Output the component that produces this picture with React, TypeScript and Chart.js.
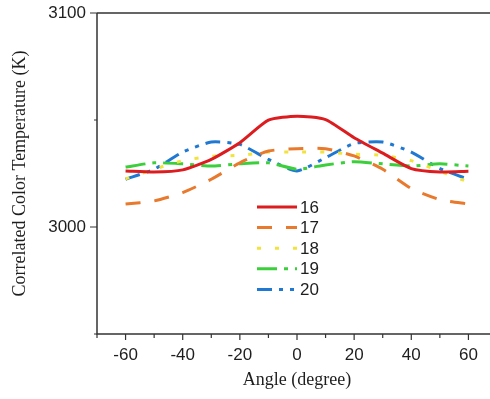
import React, { useEffect, useRef } from "react";
import { Chart, registerables } from "chart.js";

Chart.register(...registerables);

const angles = [-60, -50, -40, -30, -20, -10, 0, 10, 20, 30, 40, 50, 60];
const s16 = [3026.2, 3025.7, 3026.7, 3031.6, 3039.4, 3049.9, 3051.8, 3050.2, 3041.7, 3034.5, 3027.3, 3025.7, 3026.0];
const s17 = [3010.7, 3012.2, 3016.1, 3022.3, 3030.0, 3035.5, 3036.6, 3036.6, 3033.2, 3027.0, 3018.0, 3012.8, 3010.7];
const s18 = [3022.5, 3027.0, 3031.0, 3033.0, 3033.5, 3035.0, 3035.0, 3035.0, 3034.0, 3033.5, 3031.0, 3026.0, 3021.0];
const s19 = [3028.0, 3030.0, 3029.5, 3028.5, 3029.5, 3030.0, 3027.0, 3029.0, 3030.5, 3029.5, 3028.5, 3029.5, 3028.5];
const s20 = [3022.3, 3027.0, 3035.0, 3039.7, 3038.6, 3031.6, 3026.2, 3032.4, 3039.0, 3039.7, 3035.0, 3027.3, 3022.3];
const seriesLabels = ["16", "17", "18", "19", "20"];
const seriesValues = [s16, s17, s18, s19, s20];
const seriesColors = ["#dc1c1f", "#e8792d", "#f2e33a", "#3ccf3c", "#1f78d1"];
const seriesDashes = [[], [15, 14], [4, 14], [20, 7, 4, 7], [15, 7, 4, 7, 4, 7]];
const xMajorLabels = [-60, -40, -20, 0, 20, 40, 60];
const yMajorLabels = [3000, 3100];
const xRange = [-70, 70];
const yRange = [2950, 3100];

const AXIS_COLOR = "#333";
const TEXT_COLOR = "#1e1e1e";

const framePlugin = {
  id: "frame",
  afterDatasetsDraw(chart: any) {
    const { ctx, chartArea, scales } = chart;
    const xs = scales.x;
    const ys = scales.y;
    const { left, right, top, bottom } = chartArea;
    ctx.save();
    ctx.strokeStyle = AXIS_COLOR;
    ctx.lineWidth = 1.5;
    ctx.setLineDash([]);
    ctx.beginPath();
    ctx.moveTo(left, top);
    ctx.lineTo(right, top);
    ctx.moveTo(left, top);
    ctx.lineTo(left, bottom);
    ctx.lineTo(right, bottom);
    ctx.stroke();
    // tick marks
    ctx.lineWidth = 1.2;
    ctx.beginPath();
    for (let v = xRange[0]; v <= xRange[1]; v += 10) {
      const px = xs.getPixelForValue(v);
      const len = xMajorLabels.includes(v) ? 6 : 4;
      ctx.moveTo(px, bottom);
      ctx.lineTo(px, bottom + len);
    }
    for (let v = yRange[0]; v <= yRange[1]; v += 50) {
      const py = ys.getPixelForValue(v);
      const len = yMajorLabels.includes(v) ? 7 : 3;
      ctx.moveTo(left, py);
      ctx.lineTo(left - len, py);
    }
    ctx.stroke();

    // legend
    const lx = left + 160;
    const ly = top + 194;
    const step = 20.6;
    chart.data.datasets.forEach((ds: any, i: number) => {
      const y = ly + i * step;
      ctx.beginPath();
      ctx.strokeStyle = ds.borderColor;
      ctx.lineWidth = 3;
      ctx.setLineDash(ds.borderDash || []);
      ctx.moveTo(lx, y);
      ctx.lineTo(lx + 40, y);
      ctx.stroke();
      ctx.setLineDash([]);
      ctx.fillStyle = TEXT_COLOR;
      ctx.font = "17px 'Liberation Sans', Arial, sans-serif";
      ctx.textAlign = "left";
      ctx.textBaseline = "middle";
      ctx.fillText(ds.label, lx + 43, y + 1);
    });
    ctx.restore();
  },
};

export default function App() {
  const ref = useRef<HTMLCanvasElement>(null);
  useEffect(() => {
    if (!ref.current) return;
    const chart = new Chart(ref.current, {
      type: "line",
      data: {
        datasets: seriesLabels.map((label, i) => ({
          label,
          data: angles.map((a, j) => ({ x: a, y: seriesValues[i][j] })),
          borderColor: seriesColors[i],
          backgroundColor: seriesColors[i],
          borderWidth: 3,
          borderDash: seriesDashes[i],
          pointRadius: 0,
          tension: 0.2,
          fill: false,
        })),
      },
      options: {
        animation: false,
        responsive: false,
        maintainAspectRatio: false,
        layout: { padding: { left: 0, top: 13, right: 23, bottom: 0 }, autoPadding: false },
        plugins: { legend: { display: false }, tooltip: { enabled: false } },
        scales: {
          x: {
            type: "linear",
            min: xRange[0],
            max: xRange[1],
            grid: { display: false, drawTicks: false },
            border: { display: false },
            afterFit: (s: any) => {
              s.height = 65;
              s.paddingLeft = 0;
              s.paddingRight = 0;
              s.paddingTop = 0;
              s.paddingBottom = 0;
            },
            ticks: {
              stepSize: 10,
              autoSkip: false,
              maxRotation: 0,
              padding: 11,
              color: TEXT_COLOR,
              font: { family: "'Liberation Sans', Arial, sans-serif", size: 17 },
              callback: (v: any) => (xMajorLabels.includes(Number(v)) ? String(v) : ""),
            },
            title: {
              display: true,
              text: "Angle (degree)",
              color: TEXT_COLOR,
              font: { family: "'Liberation Serif', 'Times New Roman', serif", size: 18 },
              padding: { top: 0, bottom: 8 },
            },
          },
          y: {
            type: "linear",
            min: yRange[0],
            max: yRange[1],
            grid: { display: false, drawTicks: false },
            border: { display: false },
            afterFit: (s: any) => {
              s.width = 97;
              s.paddingLeft = 0;
              s.paddingRight = 0;
              s.paddingTop = 0;
              s.paddingBottom = 0;
            },
            ticks: {
              stepSize: 50,
              autoSkip: false,
              padding: 11,
              color: TEXT_COLOR,
              font: { family: "'Liberation Sans', Arial, sans-serif", size: 17 },
              callback: (v: any) => (yMajorLabels.includes(Number(v)) ? String(v) : ""),
            },
            title: {
              display: true,
              text: "Correlated Color Temperature (K)",
              color: TEXT_COLOR,
              font: { family: "'Liberation Serif', 'Times New Roman', serif", size: 18 },
              padding: { top: 9, bottom: 0 },
            },
          },
        },
      },
      plugins: [framePlugin],
    });
    return () => chart.destroy();
  }, []);
  return (
    <div
      style={{
        position: "fixed",
        left: 0,
        top: 0,
        width: 490,
        height: 399,
        overflow: "hidden",
        background: "#fff",
      }}
    >
      <canvas ref={ref} width={520} height={399} style={{ width: 520, height: 399, display: "block" }} />
    </div>
  );
}
